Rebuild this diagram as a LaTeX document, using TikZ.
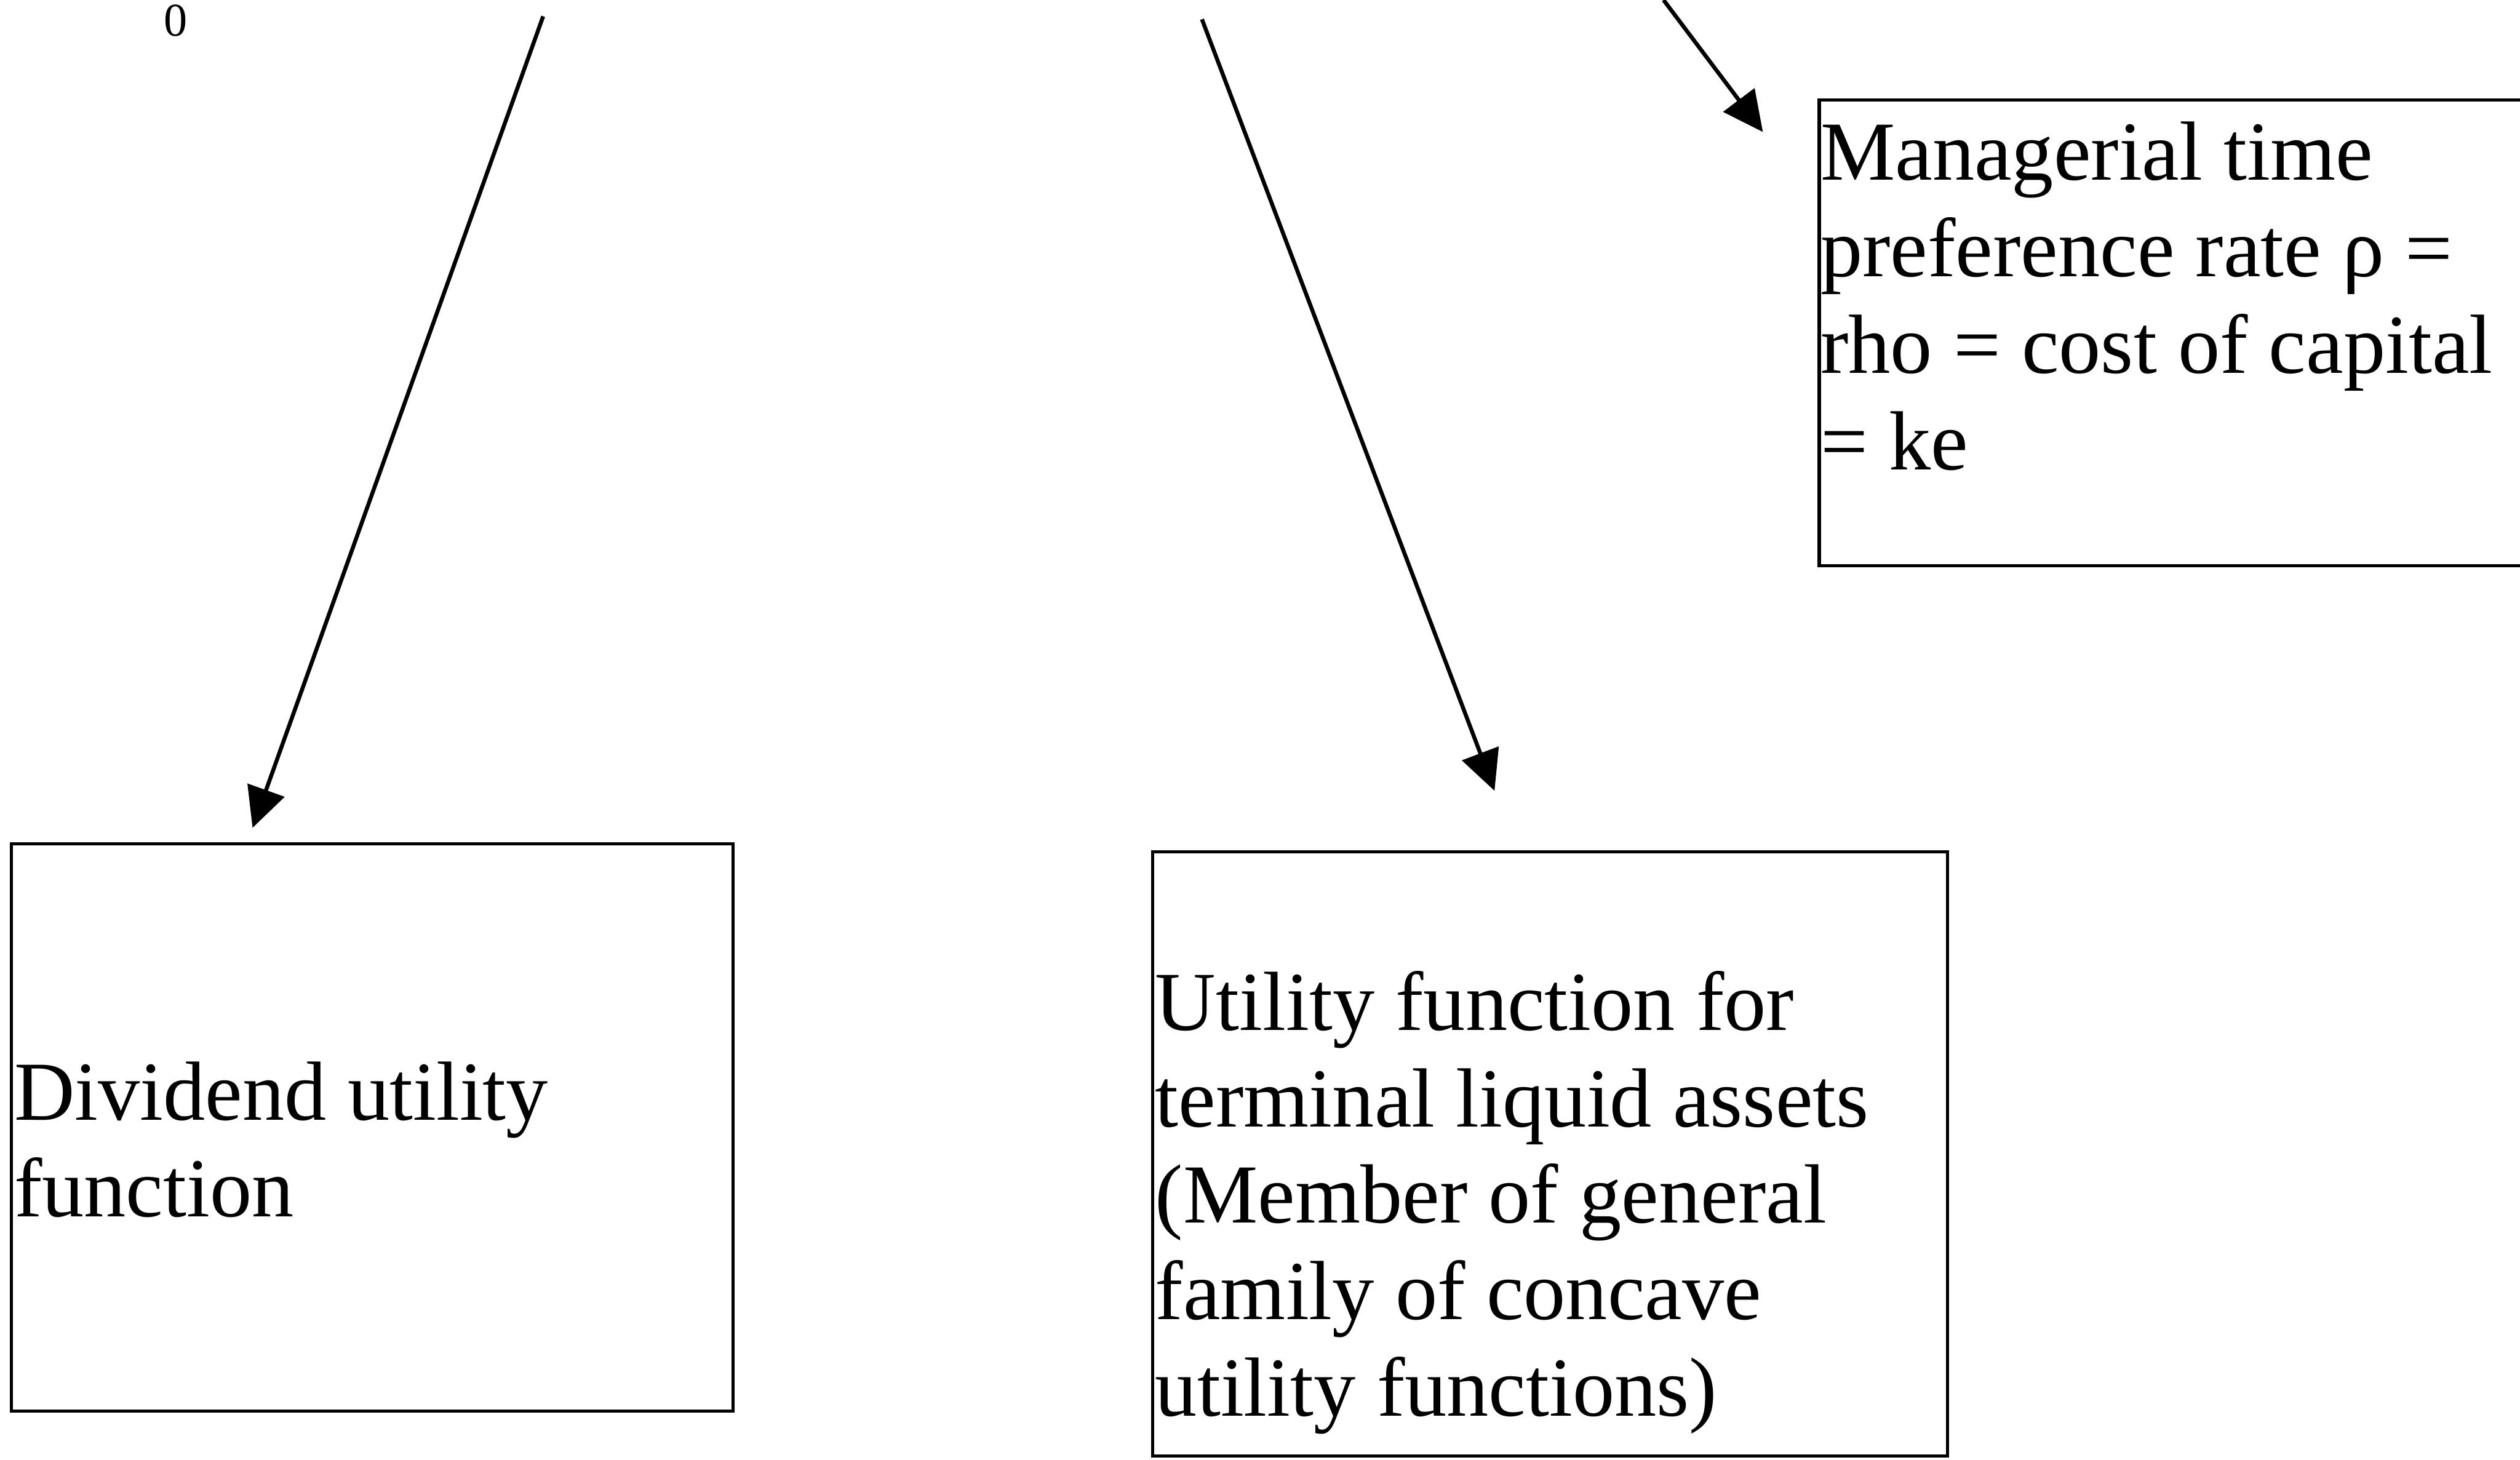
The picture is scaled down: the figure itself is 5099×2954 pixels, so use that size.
\documentclass[tikz,border=0pt]{standalone}
\usepackage{fontspec}
\setmainfont{Liberation Serif}
\usetikzlibrary{arrows.meta}
\begin{document}
\begin{tikzpicture}[x=0.01cm,y=-0.01cm,
  boxline/.style={draw=black,line width=1.8pt,fill=none},
  txt/.style={anchor=base west,inner sep=0pt,align=left,font=\fontsize{48.3}{55.5}\selectfont},
  conn/.style={line width=2.3pt,-{Triangle[length=0.81cm,width=0.78cm]}}]
\clip (0,0) rectangle (5099,2954);
\fill[white] (0,0) rectangle (5099,2954);
% label
\node[inner sep=0pt,font=\fontsize{27}{30}\selectfont] (zero) at (355,42) {0};
% boxes
\draw[boxline] (23,1707) rectangle (1483,2855);
\draw[boxline] (2332,1724) rectangle (3941,2946);
\draw[boxline] (3681,202) rectangle (5200,1145);
\node[inner sep=0pt,minimum width=14.6cm,minimum height=11.48cm,anchor=north west] (divbox) at (23,1707) {};
\node[inner sep=0pt,minimum width=16.09cm,minimum height=12.22cm,anchor=north west] (termbox) at (2332,1724) {};
\node[inner sep=0pt,minimum width=15.19cm,minimum height=9.43cm,anchor=north west] (rhobox) at (3681,202) {};
% texts
\node[txt] (divtxt) at (28,2462) {Dividend utility\\function};
\node[txt] (termtxt) at (2337,2865) {Utility function for\\terminal liquid assets\\(Member of general\\family of concave\\utility functions)};
\node[txt] (rhotxt) at (3683,950) {Managerial time\\preference rate ρ =\\rho = cost of capital\\= ke};
% connectors
\coordinate (s1) at (1099,33);
\coordinate (t1) at (511,1675);
\coordinate (s2) at (2432,39);
\coordinate (t2) at (3024,1600);
\coordinate (s3) at (3366,0);
\coordinate (t3) at (3567,267);
\draw[conn] (s1) -- (t1);
\draw[conn] (s2) -- (t2);
\draw[conn] (s3) -- (t3);
\end{tikzpicture}
\end{document}
